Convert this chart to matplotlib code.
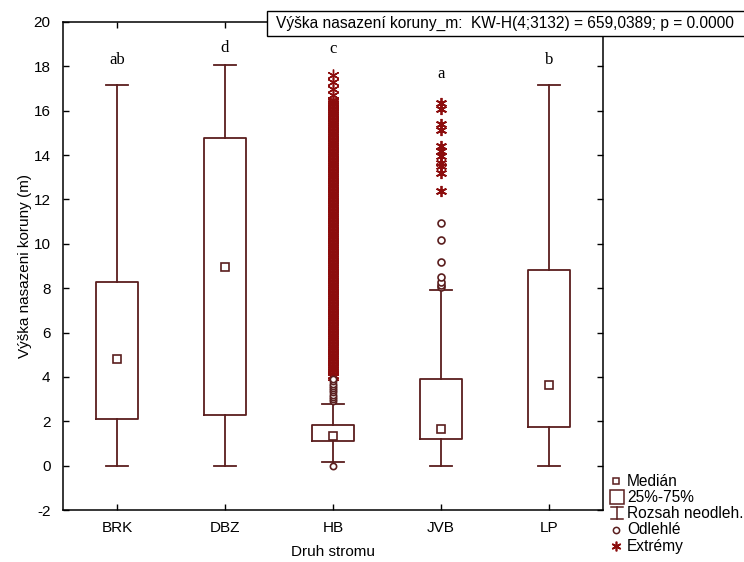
"""
plot.py

Kruskal-Wallis box plot of crown base height by tree species
(Statistica style: median point, 25-75% box, non-outlier range,
outliers and extremes).
"""

import matplotlib
matplotlib.use("Agg")
import matplotlib.pyplot as plt
from matplotlib.patches import Rectangle
from matplotlib.lines import Line2D

plt.rcParams["font.family"] = ["Liberation Sans", "DejaVu Sans"]
plt.rcParams["axes.unicode_minus"] = False

# --- data ---
species = ["BRK", "DBZ", "HB", "JVB", "LP"]
medians = [4.8, 8.95, 1.35, 1.67, 3.65]
q1 = [2.1, 2.3, 1.1, 1.2, 1.72]
q3 = [8.28, 14.75, 1.82, 3.9, 8.82]
whisker_lo = [0.0, 0.0, 0.18, 0.0, 0.0]
whisker_hi = [17.15, 18.05, 2.8, 7.9, 17.15]
letters = ["ab", "d", "c", "a", "b"]
letter_y = [18.3, 18.85, 18.8, 17.65, 18.3]

hb_outliers = [0.0, 2.9, 3.0, 3.1, 3.2, 3.3, 3.4, 3.5, 3.6, 3.7, 3.8, 3.9]
hb_extremes = [
    4.0, 4.1, 4.2, 4.3, 4.4, 4.5, 4.6, 4.7, 4.8, 4.9,
    5.0, 5.1, 5.2, 5.3, 5.4, 5.5, 5.6, 5.7, 5.8, 5.9,
    6.0, 6.1, 6.2, 6.3, 6.4, 6.5, 6.6, 6.7, 6.8, 6.9,
    7.0, 7.1, 7.2, 7.3, 7.4, 7.5, 7.6, 7.7, 7.8, 7.9,
    8.0, 8.1, 8.2, 8.3, 8.4, 8.5, 8.6, 8.7, 8.8, 8.9,
    9.0, 9.1, 9.2, 9.3, 9.4, 9.5, 9.6, 9.7, 9.8, 9.9,
    10.0, 10.1, 10.2, 10.3, 10.4, 10.5, 10.6, 10.7, 10.8, 10.9,
    11.0, 11.1, 11.2, 11.3, 11.4, 11.5, 11.6, 11.7, 11.8, 11.9,
    12.0, 12.1, 12.2, 12.3, 12.4, 12.5, 12.6, 12.7, 12.8, 12.9,
    13.0, 13.1, 13.2, 13.3, 13.4, 13.5, 13.6, 13.7, 13.8, 13.9,
    14.0, 14.1, 14.2, 14.3, 14.4, 14.5, 14.6, 14.7, 14.8, 14.9,
    15.0, 15.1, 15.2, 15.3, 15.4, 15.5, 15.6, 15.7, 15.8, 15.9,
    16.0, 16.1, 16.2, 16.3, 16.4, 16.5, 16.7, 17.0, 17.3, 17.6,
]
jvb_outliers = [8.04, 8.16, 8.3, 8.5, 9.2, 10.18, 10.92]
jvb_extremes = [12.37, 13.2, 13.5, 13.65, 13.95, 14.18, 14.4, 15.15, 15.38, 16.06, 16.36]

title_text = "Výška nasazení koruny_m:  KW-H(4;3132) = 659,0389; p = 0.0000"
legend_labels = ["Medián", "25%-75%", "Rozsah neodleh.", "Odlehlé", "Extrémy"]

BOX_COLOR = "#5a1e1e"
STAR_COLOR = "#8c0d0d"
FS = 11

fig = plt.figure(figsize=(7.44, 5.62), dpi=100)
ax = fig.add_axes([63 / 744, 1 - 510 / 562, 540 / 744, 488 / 562])

stats = []
for i, name in enumerate(species):
    stats.append({
        "label": name, "med": medians[i], "q1": q1[i], "q3": q3[i],
        "whislo": whisker_lo[i], "whishi": whisker_hi[i], "fliers": [],
    })

line_kw = dict(color=BOX_COLOR, linewidth=1.3)
ax.bxp(stats, positions=range(len(species)), widths=0.39, capwidths=0.2,
       showfliers=False, boxprops=line_kw, whiskerprops=line_kw,
       capprops=line_kw, medianprops=dict(linestyle="none"))

# median points
ax.plot(range(len(species)), medians, linestyle="none", marker="s",
        markersize=5.5, markerfacecolor="white", markeredgecolor=BOX_COLOR,
        markeredgewidth=1.2, zorder=4)

hb = species.index("HB")
jvb = species.index("JVB")
star = (6, 2, 0)
ax.plot([hb] * len(hb_extremes), hb_extremes, linestyle="none", marker=star,
        markersize=8.5, markeredgecolor=STAR_COLOR, markeredgewidth=1.0, zorder=3)
ax.plot([jvb] * len(jvb_extremes), jvb_extremes, linestyle="none", marker=star,
        markersize=8, markeredgecolor=STAR_COLOR, markeredgewidth=1.3, zorder=3)
ax.plot([hb] * len(hb_outliers), hb_outliers, linestyle="none", marker="o",
        markersize=4.5, markerfacecolor="white", markeredgecolor=BOX_COLOR,
        markeredgewidth=1.2, zorder=4)
ax.plot([jvb] * len(jvb_outliers), jvb_outliers, linestyle="none", marker="o",
        markersize=5, markerfacecolor="white", markeredgecolor=BOX_COLOR,
        markeredgewidth=1.2, zorder=4)

for i, (lab, ly) in enumerate(zip(letters, letter_y)):
    ax.text(i, ly, lab, ha="center", va="center", fontsize=12,
            family=["Liberation Serif", "DejaVu Serif"])

ax.set_xlim(-0.5, len(species) - 0.5)
ax.set_ylim(-2, 20)
ax.set_yticks(range(-2, 21, 2))
ax.set_xticks(range(len(species)))
ax.set_xticklabels(species)
ax.tick_params(direction="in", length=4, width=1, labelsize=FS,
               top=True, right=True, colors="black")
ax.tick_params(axis="y", pad=9)
ax.tick_params(axis="x", pad=8)
for sp in ax.spines.values():
    sp.set_linewidth(1.1)
ax.set_xlabel("Druh stromu", fontsize=FS, labelpad=7)
ax.set_ylabel("Výška nasazeni koruny (m)", fontsize=FS)
ax.yaxis.set_label_coords(-0.058, 0.5)

# statistic box at the top, running off the right edge
fig.patches.append(Rectangle((267 / 744, 1 - 36 / 562), 500 / 744, 25 / 562,
                             transform=fig.transFigure, facecolor="white",
                             edgecolor="black", linewidth=1.0, zorder=5))
fig.text(276 / 744, 1 - 23.5 / 562, title_text, fontsize=11.2, va="center",
         ha="left", zorder=6)

# legend (drawn in pixel coordinates of a small overlay axes)
lax = fig.add_axes([0, 0, 1, 1], facecolor="none")
lax.set_xlim(0, 744)
lax.set_ylim(562, 0)
lax.axis("off")
item_y = [481, 497, 513, 530, 546]
lax.plot(616, item_y[0], marker="s", markersize=5, markerfacecolor="white",
         markeredgecolor=BOX_COLOR, markeredgewidth=1.1, linestyle="none")
lax.plot(617, item_y[1], marker="s", markersize=10, markerfacecolor="white",
         markeredgecolor=BOX_COLOR, markeredgewidth=1.1, linestyle="none")
y0, y1 = item_y[2] - 6, item_y[2] + 6
lax.add_line(Line2D([611, 623], [y0, y0], color=BOX_COLOR, linewidth=1.1))
lax.add_line(Line2D([611, 623], [y1, y1], color=BOX_COLOR, linewidth=1.1))
lax.add_line(Line2D([617, 617], [y0, y1], color=BOX_COLOR, linewidth=1.1))
lax.plot(616, item_y[3], marker="o", markersize=4.5, markerfacecolor="white",
         markeredgecolor=BOX_COLOR, markeredgewidth=1.1, linestyle="none")
lax.plot(616, item_y[4], marker=star, markersize=7, markeredgecolor=STAR_COLOR,
         markeredgewidth=1.2, linestyle="none")
for lab, ly in zip(legend_labels, item_y):
    lax.text(627, ly, lab, fontsize=11.2, va="center", ha="left")

fig.savefig("out.png", dpi=100)
